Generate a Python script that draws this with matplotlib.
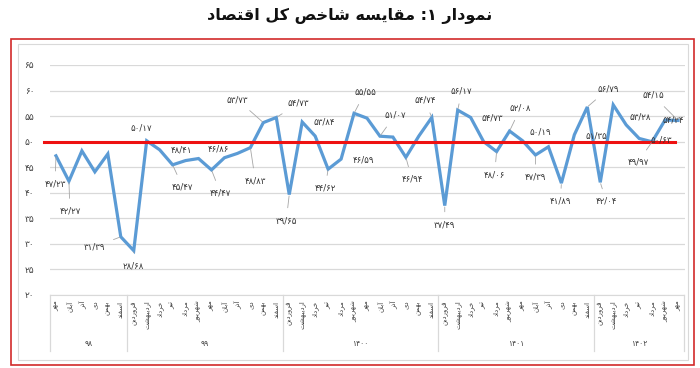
import matplotlib
matplotlib.use('Agg')
import matplotlib.pyplot as plt
from matplotlib.patches import Rectangle
from matplotlib.lines import Line2D
import matplotlib.transforms as mtransforms

# values (98 Mehr .. 1402 Mehr)
values = [47.23, 42.27, 48.2, 44.1, 47.6, 31.39,
          28.68, 50.17, 48.41, 45.47, 46.3, 46.7, 44.47, 46.86, 47.7, 48.83, 53.73, 54.73,
          39.65, 53.84, 51.1, 44.62, 46.59, 55.55, 54.6, 51.07, 50.9, 46.94, 51.1, 54.74,
          37.49, 56.17, 54.73, 50.0, 48.06, 52.08, 50.19, 47.39, 49.0, 41.89, 51.35, 56.79,
          42.04, 57.2, 53.28, 50.63, 49.97, 54.24, 54.15]

years = ['98', '99', '1400', '1401', '1402']
months_full = ['فروردین', 'اردیبهشت', 'خرداد', 'تیر', 'مرداد', 'شهریور',
               'مهر', 'آبان', 'آذر', 'دی', 'بهمن', 'اسفند']
year_months = [months_full[6:], months_full, months_full, months_full, months_full[:7]]

# which points carry a data label, and where the label sits (pixel offset, leader line)
label_idx = [0, 1, 5, 6, 7, 8, 9, 12, 13, 15, 16, 17, 18, 19, 21, 22, 23, 25, 27, 29,
             30, 31, 32, 34, 35, 36, 37, 39, 40, 41, 42, 44, 45, 46, 47, 48]
label_off = [(-1, -28, 1), (1, -30, 1), (-26, -10, 1), (0, -15, 1), (-5, 13, 0), (22, 0, 0),
             (10, -22, 1), (9, -23, 1), (-6, 9, 0), (5, -33, 1), (-26, 23, 1), (22, 14, 1),
             (-3, -26, 1), (22, 0, 0), (-3, -19, 1), (22, -1, 0), (11, 21, 1), (15, 21, 1),
             (6, -22, 1), (-7, 17, 1), (0, -19, 1), (4, 19, 1), (22, -1, 0), (-2, -23, 1),
             (11, 23, 1), (18, 9, 0), (0, -22, 1), (-1, -18, 1), (22, -1, 0), (21, 18, 1),
             (6, -19, 1), (14, 8, 0), (22, -2, 0), (-14, -20, 1), (8, 0, 0), (-25, 25, 1)]

FA_DIGITS = str.maketrans('0123456789.', '۰۱۲۳۴۵۶۷۸۹/')

# contextual forms: isolated, final, initial, medial
FORMS = {
    'ا': ('\uFE8D', '\uFE8E', None, None),
    'آ': ('\uFE81', '\uFE82', None, None),
    'ب': ('\uFE8F', '\uFE90', '\uFE91', '\uFE92'),
    'ت': ('\uFE95', '\uFE96', '\uFE97', '\uFE98'),
    'خ': ('\uFEA5', '\uFEA6', '\uFEA7', '\uFEA8'),
    'د': ('\uFEA9', '\uFEAA', None, None),
    'ذ': ('\uFEAB', '\uFEAC', None, None),
    'ر': ('\uFEAD', '\uFEAE', None, None),
    'ز': ('\uFEAF', '\uFEB0', None, None),
    'س': ('\uFEB1', '\uFEB2', '\uFEB3', '\uFEB4'),
    'ش': ('\uFEB5', '\uFEB6', '\uFEB7', '\uFEB8'),
    'ص': ('\uFEB9', '\uFEBA', '\uFEBB', '\uFEBC'),
    'ف': ('\uFED1', '\uFED2', '\uFED3', '\uFED4'),
    'ق': ('\uFED5', '\uFED6', '\uFED7', '\uFED8'),
    'ل': ('\uFEDD', '\uFEDE', '\uFEDF', '\uFEE0'),
    'م': ('\uFEE1', '\uFEE2', '\uFEE3', '\uFEE4'),
    'ن': ('\uFEE5', '\uFEE6', '\uFEE7', '\uFEE8'),
    'ه': ('\uFEE9', '\uFEEA', '\uFEEB', '\uFEEC'),
    'و': ('\uFEED', '\uFEEE', None, None),
    'ی': ('\uFBFC', '\uFBFD', '\uFBFE', '\uFBFF'),
    'ک': ('\uFB8E', '\uFB8F', '\uFB90', '\uFB91'),
}


def fa(text):
    # shape persian letters and put them in visual order
    text = text.replace('\u064A', '\u06CC').replace('\u0643', '\u06A9')
    out = []
    for i, c in enumerate(text):
        if c not in FORMS:
            out.append(c)
            continue
        prev = text[i - 1] if i > 0 else ''
        nxt = text[i + 1] if i + 1 < len(text) else ''
        join_prev = prev in FORMS and FORMS[prev][2] is not None
        join_next = FORMS[c][2] is not None and nxt in FORMS
        iso, fin, ini, med = FORMS[c]
        if join_prev and join_next:
            out.append(med)
        elif join_prev:
            out.append(fin)
        elif join_next:
            out.append(ini)
        else:
            out.append(iso)
    return ''.join(reversed(out))


plt.rcParams['font.family'] = ['DejaVu Sans']

fig = plt.figure(figsize=(7, 3.68), dpi=100)
W, H = 700, 368

fig.text(0.5, 1 - 16 / H, fa('نمودار ۱: مقایسه شاخص کل اقتصاد'),
         ha='center', va='center', fontsize=11.5, fontweight='bold', color='#111111')

# outer red frame and inner chart frame
fig.patches.append(Rectangle((11 / W, 1 - 365 / H), 683 / W, 326 / H, transform=fig.transFigure,
                             fill=False, edgecolor='#d22a2a', linewidth=1.2))
fig.patches.append(Rectangle((18 / W, 1 - 360 / H), 670 / W, 316 / H, transform=fig.transFigure,
                             fill=False, edgecolor='#d9d9d9', linewidth=0.8))

ax = fig.add_axes([49.5 / W, 1 - 295 / H, 635 / W, 230 / H])
x = list(range(len(values)))
ax.plot(x, values, color='#5b9bd5', linewidth=2.3, zorder=3, solid_joinstyle='miter')
ax.plot([-0.9, 47.8], [50, 50], color='#ee1111', linewidth=2.2, zorder=4, clip_on=False)

ax.set_xlim(-0.5, len(values) - 0.5)
ax.set_ylim(20, 65)
yt = list(range(20, 70, 5))
ax.set_yticks(yt)
ax.set_yticklabels([str(v).translate(FA_DIGITS) for v in yt], fontsize=6.5, color='#404040')
ax.tick_params(axis='y', length=0, pad=11)
ax.grid(axis='y', color='#d9d9d9', linewidth=0.9)
ax.set_axisbelow(True)
for s in ['top', 'right', 'left']:
    ax.spines[s].set_visible(False)
ax.spines['bottom'].set_color('#d9d9d9')

# month labels and year groups
month_labels = [fa(m) for ms in year_months for m in ms]
ax.set_xticks(x)
ax.set_xticklabels(month_labels, rotation=90, fontsize=5, color='#404040', va='top')
ax.tick_params(axis='x', length=0, pad=4)

trans = mtransforms.blended_transform_factory(ax.transData, ax.transAxes)
start = 0
bounds = [-0.5]
for yr, ms in zip(years, year_months):
    mid = start + (len(ms) - 1) / 2
    ax.text(mid, -48 / 230, yr.translate(FA_DIGITS), transform=trans, ha='center', va='center',
            fontsize=5.5, color='#404040')
    start += len(ms)
    bounds.append(start - 0.5)
for b in bounds:
    ax.add_line(Line2D([b, b], [0, -56 / 230], transform=trans, color='#d9d9d9',
                       linewidth=0.9, clip_on=False))

# data labels
for i, (dx, dy, lead) in zip(label_idx, label_off):
    txt = ('%.2f' % values[i]).translate(FA_DIGITS)
    ax.annotate(txt, (i, values[i]), xytext=(dx, dy), textcoords='offset pixels',
                ha='center', va='center', fontsize=6.2, color='#333333', zorder=5,
                annotation_clip=False,
                arrowprops=dict(arrowstyle='-', color='#a6a6a6', linewidth=0.6,
                                shrinkA=4, shrinkB=1) if lead else None)

fig.savefig('out.png', dpi=100)
